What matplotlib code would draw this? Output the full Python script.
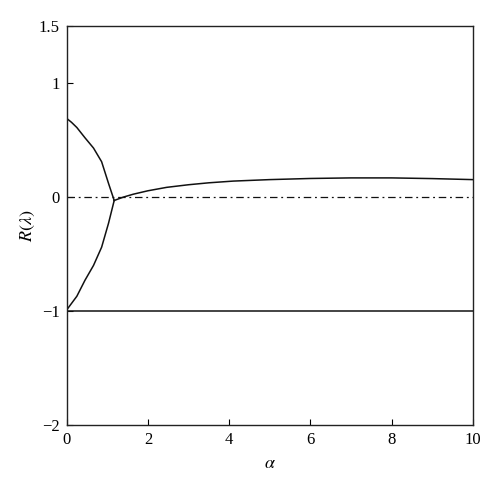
import numpy as np
import matplotlib.pyplot as plt

plt.rcParams['font.family'] = ['Liberation Serif', 'DejaVu Serif']
plt.rcParams['mathtext.fontset'] = 'stix'

# branch that starts at 0.7 and falls to the meeting point
up_x = [0, 0.12, 0.25, 0.45, 0.66, 0.86, 1.03, 1.17]
up_y = [0.69, 0.655, 0.61, 0.52, 0.43, 0.31, 0.12, -0.03]

# branch that starts at -1 and rises to the meeting point
low_x = [0, 0.25, 0.45, 0.66, 0.86, 1.03, 1.17]
low_y = [-0.99, -0.87, -0.73, -0.60, -0.44, -0.23, -0.03]

# branch after the meeting point
right_x = [1.17, 1.4, 1.64, 2.0, 2.46, 3.0, 3.5, 4.1, 5.0, 6.0, 7.0, 8.0, 9.0, 10.0]
right_y = [-0.03, 0.0, 0.025, 0.055, 0.085, 0.108, 0.125, 0.14, 0.153, 0.163, 0.168, 0.168, 0.162, 0.153]

const_x = [0, 10]
const_y = [-1, -1]

fig = plt.figure(figsize=(5, 4.88), dpi=100)
ax = fig.add_axes([0.1334, 0.129, 0.812, 0.8176])

lc = '#111111'
ax.plot(up_x, up_y, color=lc, lw=1.1)
ax.plot(low_x, low_y, color=lc, lw=1.1)
ax.plot(right_x, right_y, color=lc, lw=1.1)
ax.plot(const_x, const_y, color=lc, lw=1.1)
ax.axhline(0, color=lc, lw=0.9, ls=(0, (6, 3, 1.5, 3)))

ax.set_xlim(0, 10)
ax.set_ylim(-2, 1.5)
ax.set_xticks([0, 2, 4, 6, 8, 10])
ax.set_yticks([-2, -1, 0, 1, 1.5])
ax.set_yticklabels(['\u22122', '\u22121', '0', '1', '1.5'])
ax.tick_params(direction='in', length=4, labelsize=12, width=0.8, pad=5)
for s in ax.spines.values():
    s.set_linewidth(1.0)
    s.set_color('#222222')

ax.set_xlabel(r'$\alpha$', fontsize=13, labelpad=5)
ax.set_ylabel(r'$R(\lambda)$', fontsize=13, labelpad=1)

fig.savefig('out.png', dpi=100)
